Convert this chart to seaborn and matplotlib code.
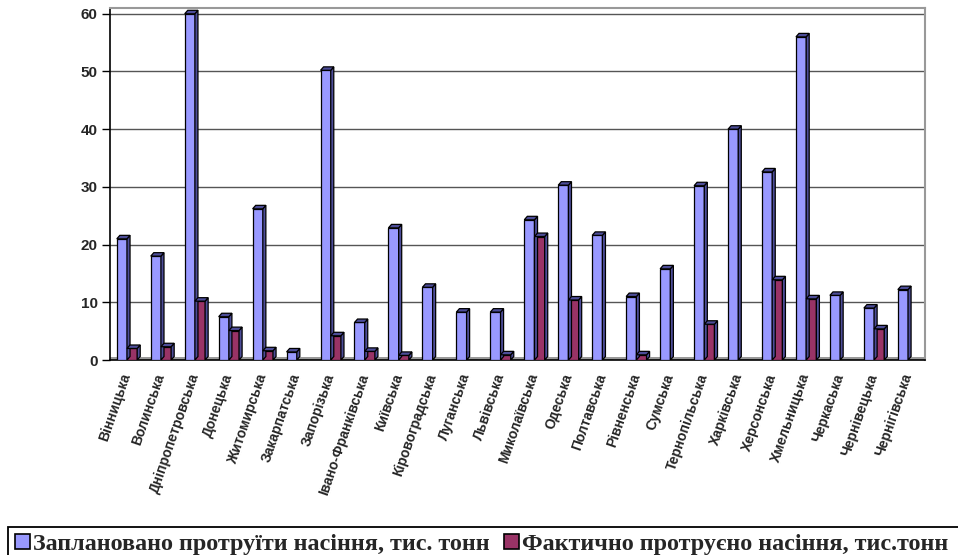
import numpy as np
import pandas as pd
import matplotlib
matplotlib.use("Agg")
import matplotlib.pyplot as plt
from matplotlib.patches import Polygon, Patch, Rectangle
import seaborn as sns

regions = ["Вінницька", "Волинська", "Дніпропетровська", "Донецька", "Житомирська",
           "Закарпатська", "Запорізька", "Івано-Франківська", "Київська", "Кіровоградська",
           "Луганська", "Львівська", "Миколаївська", "Одеська", "Полтавська", "Рівненська",
           "Сумська", "Тернопільська", "Харківська", "Херсонська", "Хмельницька",
           "Черкаська", "Чернівецька", "Чернігівська"]
planned = [21.0, 18.0, 60.0, 7.5, 26.2, 1.4, 50.2, 6.5, 22.9, 12.6, 8.3, 8.3, 24.3,
           30.3, 21.6, 11.0, 15.8, 30.2, 40.0, 32.6, 56.0, 11.2, 9.0, 12.2]
actual = [2.0, 2.3, 10.2, 5.1, 1.6, 0.0, 4.2, 1.5, 0.8, 0.0, 0.0, 0.9, 21.4,
          10.4, 0.0, 0.9, 0.0, 6.2, 0.0, 13.9, 10.6, 0.0, 5.4, 0.0]
series_names = ["Заплановано протруїти насіння, тис. тонн",
                "Фактично протруєно насіння, тис.тонн"]
yticks = [0, 10, 20, 30, 40, 50, 60]

colors = ["#9999FF", "#993366"]
side_colors = ["#4D4D99", "#5C1F3D"]

df = pd.DataFrame({
    "region": regions * 2,
    "value": planned + actual,
    "series": [series_names[0]] * len(regions) + [series_names[1]] * len(regions),
})

sns.set_style("white")
plt.rcParams["font.family"] = ["Liberation Sans", "DejaVu Sans"]

fig = plt.figure(figsize=(9.58, 5.55), dpi=100)
ax = fig.add_axes([110 / 958, 1 - 360 / 555, (925 - 110) / 958, (360 - 8) / 555])

sns.barplot(data=df, x="region", y="value", hue="series", order=regions,
            hue_order=series_names, palette=colors, width=0.6, saturation=1,
            edgecolor="black", linewidth=0.9, ax=ax, legend=False, zorder=3)

# 3D caps and sides derived from bar patches
bar_patches = list(ax.patches)
for p in bar_patches:
    x, w, h = p.get_x(), p.get_width(), p.get_height()
    if not (h > 0):
        continue
    fc = p.get_facecolor()
    idx = 0 if abs(fc[0] - 0.6) < 0.05 else 1
    dx, dy = w * 0.3, 0.6
    side = Polygon([(x + w, 0), (x + w + dx, dy), (x + w + dx, h + dy), (x + w, h)],
                   closed=True, facecolor=side_colors[idx], edgecolor="black", lw=0.9, zorder=3)
    top = Polygon([(x, h), (x + dx, h + dy), (x + w + dx, h + dy), (x + w, h)],
                  closed=True, facecolor=side_colors[idx], edgecolor="black", lw=0.9, zorder=3)
    ax.add_patch(side)
    ax.add_patch(top)

# gridlines / floor
for v in yticks[1:]:
    ax.axhline(v, color="#555555", lw=1.0, zorder=1)
ax.axhspan(0, 0.6, color="#999999", zorder=2, lw=0)

ax.set_ylim(0, 61)
ax.set_xlim(-0.5, len(regions) - 0.5)
ax.set_yticks(yticks)
ax.set_yticklabels([str(v) for v in yticks], fontsize=11, fontweight="bold")
ax.set_xlabel("")
ax.set_ylabel("")

ax.set_xticks(range(len(regions)))
ax.set_xticklabels(regions, rotation=71, ha="right", va="center", rotation_mode="anchor",
                   fontsize=10, fontweight="bold")
ax.set_xticks(np.arange(-0.5, len(regions) + 0.5, 1), minor=True)
ax.tick_params(axis="x", which="major", length=0, pad=10)
ax.tick_params(axis="x", which="minor", length=7, width=1, color="black", direction="out")
ax.tick_params(axis="y", length=6, width=1, color="black", direction="out", pad=3, left=True)

for s in ["left", "bottom"]:
    ax.spines[s].set_color("black")
    ax.spines[s].set_linewidth(1.2)
for s in ["top", "right"]:
    ax.spines[s].set_color("#999999")
    ax.spines[s].set_linewidth(1.5)

# legend box
fig.add_artist(Rectangle((8 / 958, -0.02), 1.0, (555 - 527) / 555 + 0.02,
                         transform=fig.transFigure, facecolor="none",
                         edgecolor="black", lw=1.3, clip_on=False))
handles = [Patch(facecolor=c, edgecolor="black", lw=1.2) for c in colors]
leg = fig.legend(handles, series_names, loc="lower left",
                 bbox_to_anchor=(15 / 958, 0.0), ncol=2,
                 frameon=False, borderaxespad=0, borderpad=0, handlelength=0.62,
                 handleheight=0.62, handletextpad=0.12, columnspacing=0.6,
                 prop={"family": "Liberation Serif", "weight": "bold", "size": 17.4})

fig.savefig("out.png", dpi=100)
